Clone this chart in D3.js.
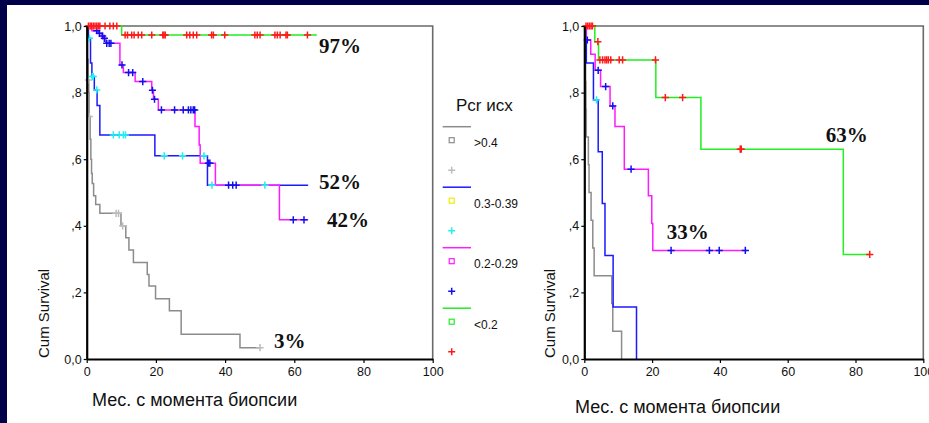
<!DOCTYPE html>
<html>
<head>
<meta charset="utf-8">
<script src="https://cdn.jsdelivr.net/npm/d3@7"></script>
<style>
  html, body { margin: 0; padding: 0; background: #00004a; }
  svg { display: block; }
  text { font-family: "Liberation Sans", Arial, sans-serif; }
</style>
</head>
<body>
<svg id="chart" width="929" height="423"></svg>
<script>
// Axis ticks
const xTicks = [0, 20, 40, 60, 80, 100];
const yTicks = [0, 0.2, 0.4, 0.6, 0.8, 1.0];
const yTickLabels = ["0,0", ",2", ",4", ",6", ",8", "1,0"];

// Groups by baseline Pcr
const groupLabels = [">0.4", "0.3-0.39", "0.2-0.29", "<0.2"];
const legendTitle = "Pcr исх";
const xTitle = "Мес. с момента биопсии";
const yTitle = "Cum Survival";

// Left panel: events as [month, cumulative survival], censored months, last follow-up
const leftGt04Events = [[0.2, 0.90], [0.4, 0.838], [0.6, 0.80], [0.7, 0.728], [1.0, 0.66], [1.2, 0.60],
  [1.4, 0.557], [1.6, 0.527], [2.0, 0.49], [2.6, 0.464], [3.8, 0.4375], [9.9, 0.40], [11.3, 0.364],
  [12.2, 0.327], [13.5, 0.29], [17.5, 0.254], [18.0, 0.219], [19.9, 0.181], [23.9, 0.145],
  [27.3, 0.074], [44.3, 0.034]];
const leftGt04Censored = [0.5, 0.8, 8.5, 9.2, 10.4, 50.1];

const left0339Events = [[0.5, 0.963], [1.1, 0.889], [1.5, 0.848], [2.2, 0.808], [3.0, 0.761],
  [3.8, 0.673], [19.7, 0.61], [34.9, 0.522]];
const left0339Censored = [0.8, 1.6, 1.9, 2.9, 7.7, 9.4, 10.6, 11.2, 22.4, 27.7, 33.9, 36.2, 51.5];

const left0229Events = [[1.5, 0.986], [3.3, 0.978], [4.2, 0.97], [4.9, 0.963], [5.5, 0.948],
  [9.6, 0.883], [10.6, 0.86], [14.0, 0.833], [18.8, 0.807], [19.3, 0.78], [20.7, 0.748],
  [31.3, 0.698], [32.5, 0.643], [32.8, 0.588], [37.2, 0.522], [55.7, 0.418]];
const left0229Censored = [2.9, 3.65, 4.6, 5.1, 5.8, 6.5, 7.0, 10.2, 12.1, 13.3, 16.2, 19.0, 19.6,
  21.6, 25.4, 27.9, 29.4, 30.1, 30.8, 31.2, 35.2, 35.6, 41.0, 42.2, 43.2, 59.7, 62.8];

const leftLt02Events = [[10.1, 0.973]];
const leftLt02Censored = [0.5, 1.0, 1.4, 1.9, 2.4, 2.9, 3.4, 3.8, 5.3, 6.7, 7.7, 8.7, 11.1, 11.8,
  13.0, 13.7, 14.9, 15.9, 18.8, 22.0, 22.3, 22.7, 28.9, 29.8, 30.8, 31.8, 36.1, 36.6, 39.9, 48.6,
  49.3, 50.1, 54.4, 55.1, 55.9, 57.6, 58.0, 63.8];

const leftFollowUp = [50.1, 64, 64, 66.5];
const leftPercentLabels = ["3%", "52%", "42%", "97%"];

// Right panel
const rightGt04Events = [[0.3, 0.917], [0.4, 0.833], [0.5, 0.75], [0.6, 0.667], [1.2, 0.583],
  [1.4, 0.5], [2.0, 0.417], [2.5, 0.333], [2.9, 0.25], [8.1, 0.167], [8.4, 0.083], [11.0, 0]];
const rightGt04Censored = [];

const right0339Events = [[0.6, 0.889], [2.7, 0.778], [4.1, 0.622], [5.3, 0.467], [6.1, 0.311],
  [8.5, 0.156], [15.4, 0]];
const right0339Censored = [3.6];

const right0229Events = [[0.5, 0.958], [1.9, 0.915], [3.2, 0.867], [4.8, 0.818], [7.6, 0.76],
  [9.05, 0.698], [11.8, 0.57], [18.9, 0.49], [19.9, 0.407], [20.2, 0.326]];
const right0229Censored = [0.9, 4.1, 6.3, 8.4, 13.8, 25.6, 36.9, 39.8, 47.5];

const rightLt02Events = [[3.1, 0.953], [4.2, 0.898], [21.1, 0.785], [34.4, 0.63], [76.4, 0.314]];
const rightLt02Censored = [0.5, 1.0, 1.5, 2.0, 2.4, 4.0, 4.6, 5.4, 6.1, 6.6, 7.1, 7.8, 10.3, 11.3,
  21.0, 23.9, 29.0, 46.0, 46.3, 84.2];

const rightFollowUp = [11.0, 15.4, 47.9, 84.2];
const rightPercentLabels = ["33%", "63%"];

// Styles per group: survival line colour, censor mark colour, legend square colour
const lineColors = ["#8c8c8c", "#1a1aff", "#ff1aff", "#22ee22"];
const censorColors = ["#bdbdbd", "#22f0f0", "#1010ee", "#ff1a1a"];
const squareColors = ["#8c8c8c", "#eeee00", "#ff1aff", "#22ee22"];

const svg = d3.select("#chart");
svg.append("rect").attr("width", 929).attr("height", 423).attr("fill", "#00004a");
svg.append("rect").attr("x", 7).attr("y", 5).attr("width", 922).attr("height", 418).attr("fill", "#ffffff");

function survivalAt(events, t) {
  let s = 1;
  for (const [et, es] of events) if (et <= t) s = es;
  return s;
}

function plusPath(cx, cy, r) {
  return `M${cx - r},${cy}H${cx + r}M${cx},${cy - r}V${cy + r}`;
}

function drawPanel(opt) {
  const x = d3.scaleLinear().domain([0, 100]).range([opt.x0, opt.x1]);
  const y = d3.scaleLinear().domain([0, 1]).range([359, 26]);
  const g = svg.append("g");

  // frame (top and right)
  g.append("path")
    .attr("d", `M${opt.x0},${y(1)}H${opt.x1}V${y(0)}`)
    .attr("fill", "none").attr("stroke", "#6a6a6a").attr("stroke-width", 1.6);

  const line = d3.line().x(d => x(d[0])).y(d => y(d[1])).curve(d3.curveStepAfter);

  opt.series.forEach((s, i) => {
    const last = s.events.length ? s.events[s.events.length - 1][1] : 1;
    const pts = [[0, 1], ...s.events, [opt.followUp[i], last]];
    g.append("path").attr("d", line(pts))
      .attr("fill", "none").attr("stroke", lineColors[i]).attr("stroke-width", 1.5)
      .attr("stroke-linejoin", "miter");
  });
  opt.series.forEach((s, i) => {
    g.append("g").selectAll("path").data(s.censored).join("path")
      .attr("d", t => plusPath(x(t), y(survivalAt(s.events, t)), 3.6))
      .attr("fill", "none").attr("stroke", censorColors[i]).attr("stroke-width", 1.5);
  });

  // axes
  const ax = g.append("g").attr("transform", `translate(0,${y(0)})`)
    .call(d3.axisBottom(x).tickValues(xTicks).tickSize(4).tickPadding(4).tickSizeOuter(0));
  const ay = g.append("g").attr("transform", `translate(${opt.x0},0)`)
    .call(d3.axisLeft(y).tickValues(yTicks).tickFormat((d, i) => yTickLabels[i])
      .tickSize(3).tickPadding(2).tickSizeOuter(0));
  [ax, ay].forEach(a => {
    a.select(".domain").attr("stroke", "#000").attr("stroke-width", 2.2);
    a.selectAll(".tick line").attr("stroke", "#000").attr("stroke-width", 1.2);
    a.selectAll(".tick text").attr("fill", "#111").style("font-size", "12.5px")
      .style("font-family", "'Liberation Sans', Arial, sans-serif");
  });

  // titles
  g.append("text").attr("x", opt.xTitleX).attr("y", opt.xTitleY)
    .style("font-size", "18px").attr("fill", "#111").text(xTitle);
  g.append("text").attr("transform", `translate(${opt.yTitleX},358) rotate(-90)`)
    .style("font-size", "15px").attr("fill", "#111").text(yTitle);

  // percentage annotations
  opt.labels.forEach(l => {
    g.append("text").attr("x", l.x).attr("y", l.y).text(l.text)
      .style("font-family", "'Liberation Serif', 'Times New Roman', serif")
      .style("font-weight", "bold").style("font-size", "21px").attr("fill", "#111");
  });
}

drawPanel({
  x0: 86.7, x1: 432.7, followUp: leftFollowUp,
  series: [
    { events: leftGt04Events, censored: leftGt04Censored },
    { events: left0339Events, censored: left0339Censored },
    { events: left0229Events, censored: left0229Censored },
    { events: leftLt02Events, censored: leftLt02Censored }
  ],
  xTitleX: 92, xTitleY: 406, yTitleX: 49,
  labels: [
    { text: leftPercentLabels[3], x: 319, y: 53.3 },
    { text: leftPercentLabels[1], x: 319, y: 189.3 },
    { text: leftPercentLabels[2], x: 327, y: 227.3 },
    { text: leftPercentLabels[0], x: 274, y: 348.3 }
  ]
});

drawPanel({
  x0: 584.3, x1: 923.3, followUp: rightFollowUp,
  series: [
    { events: rightGt04Events, censored: rightGt04Censored },
    { events: right0339Events, censored: right0339Censored },
    { events: right0229Events, censored: right0229Censored },
    { events: rightLt02Events, censored: rightLt02Censored }
  ],
  xTitleX: 575, xTitleY: 412.7, yTitleX: 555,
  labels: [
    { text: rightPercentLabels[1], x: 825.7, y: 141.7 },
    { text: rightPercentLabels[0], x: 666.7, y: 239.3 }
  ]
});

// Legend
const lg = svg.append("g");
lg.append("text").attr("x", 456).attr("y", 111).style("font-size", "17px").attr("fill", "#111")
  .text(legendTitle);
groupLabels.forEach((lab, i) => {
  const y0 = 126.7 + i * 60.5;
  lg.append("line").attr("x1", 442.7).attr("x2", 471).attr("y1", y0).attr("y2", y0)
    .attr("stroke", lineColors[i]).attr("stroke-width", 1.5);
  lg.append("rect").attr("x", 449.2).attr("y", y0 + 11).attr("width", 5).attr("height", 5)
    .attr("fill", "none").attr("stroke", squareColors[i]).attr("stroke-width", 1.2);
  lg.append("path").attr("d", plusPath(451.7, y0 + 43.5, 3.5))
    .attr("fill", "none").attr("stroke", censorColors[i]).attr("stroke-width", 1.5);
  lg.append("text").attr("x", 474).attr("y", y0 + 16.5).attr("dy", "0.35em")
    .style("font-size", "12px").attr("fill", "#111").text(lab);
});
</script>
</body>
</html>
